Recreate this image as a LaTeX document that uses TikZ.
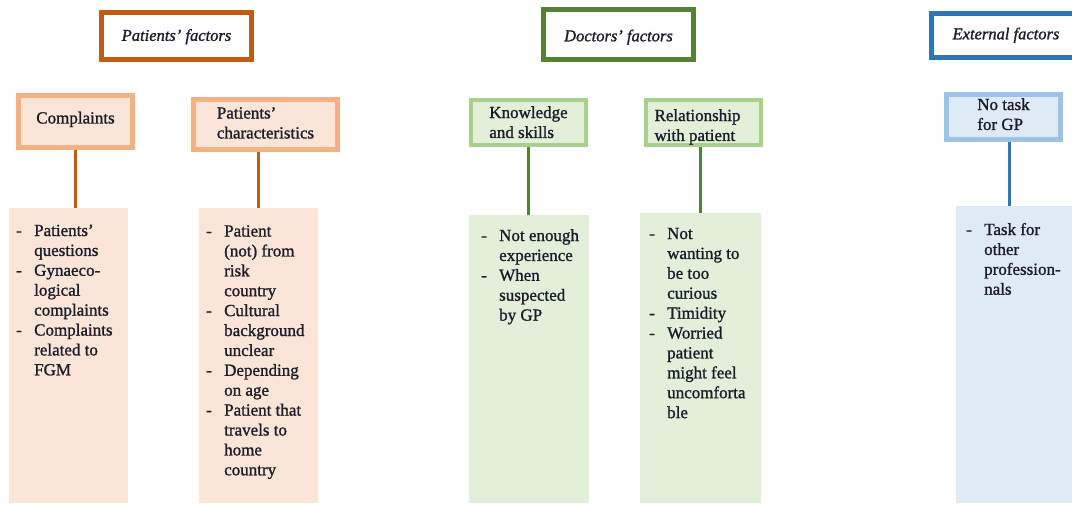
\documentclass[tikz,border=0pt]{standalone}
\usepackage{fontspec}
\setmainfont{Liberation Serif}[FakeBold=1.2]
\usepackage{array}
\definecolor{txt}{HTML}{1C1C2A}
\definecolor{oD}{HTML}{C55A11}
\definecolor{oL}{HTML}{F4B183}
\definecolor{oF}{HTML}{FBE5D6}
\definecolor{gD}{HTML}{548235}
\definecolor{gL}{HTML}{A9D18E}
\definecolor{gF}{HTML}{E2F0D9}
\definecolor{bD}{HTML}{2E75B6}
\definecolor{bL}{HTML}{9DC3E6}
\definecolor{bF}{HTML}{DEEBF7}
\newcommand{\bodyf}{\fontsize{17}{19.9}\selectfont}
\newcommand{\lst}[1]{\bodyf\begin{tabular}[t]{@{}p{18pt}@{}l@{}}#1\end{tabular}}
\newcommand{\shiftt}[2]{\raisebox{#1}[\height][\depth]{\begin{tabular}{@{}l@{}}#2\end{tabular}}}
\begin{document}
\begin{tikzpicture}[x=1pt,y=-1pt,
  head/.style={draw, line width=5pt, fill=white, minimum width=150pt, minimum height=47pt,
    inner sep=0pt, text=txt, font=\fontsize{16.5}{19}\selectfont\itshape},
  cat/.style={draw, line width=4.5pt, inner sep=0pt, align=left, text=txt, font=\bodyf},
  lbox/.style={inner sep=0pt, minimum width=119pt, minimum height=295pt},
  ltext/.style={inner sep=0pt, anchor=base west, text=txt},
  conn/.style={line width=3pt}]
\useasboundingbox (0,0) rectangle (1072,506);
\clip (0,0) rectangle (1072,506);
% patients
\node[head, draw=oD] (H1) at (176.5,36) {\shiftt{-1pt}{Patients' factors}};
\node[cat, draw=oL, fill=oF, minimum width=114pt, minimum height=52pt] (C1) at (75.5,121.5) {\shiftt{2pt}{Complaints}};
\node[cat, draw=oL, fill=oF, minimum width=144pt, minimum height=50pt] (C2) at (265.5,124.5) {\shiftt{0pt}{Patients'\\characteristics}};
\node[lbox, fill=oF] (L1) at (68.5,355.5) {};
\node[lbox, fill=oF] (L2) at (258.5,355.5) {};
\draw[conn, oD] (C1.south) -- (C1.south |- L1.north);
\draw[conn, oD] (L2.north |- C2.south) -- (L2.north);
\node[ltext] (T1) at (16,236) {\lst{-&Patients'\\&questions\\-&Gynaeco-\\&logical\\&complaints\\-&Complaints\\&related to\\&FGM}};
\node[ltext] (T2) at (206,236.5) {\lst{-&Patient\\&(not) from\\&risk\\&country\\-&Cultural\\&background\\&unclear\\-&Depending\\&on age\\-&Patient that\\&travels to\\&home\\&country}};
% doctors
\node[head, draw=gD, minimum height=50pt] (H2) at (618.5,34.5) {\shiftt{-3pt}{Doctors' factors}};
\node[cat, draw=gL, fill=gF, minimum width=115pt, minimum height=45pt] (C3) at (528.5,122.5) {\shiftt{-1.5pt}{Knowledge\\and skills}};
\node[cat, draw=gL, fill=gF, minimum width=115pt, minimum height=45pt] (C4) at (703.5,122.5) {\shiftt{-4.5pt}{Relationship\\with patient}\hspace{12pt}};
\node[lbox, fill=gF, minimum width=120pt, minimum height=288pt] (L3) at (529,359) {};
\node[lbox, fill=gF, minimum width=121pt, minimum height=290pt] (L4) at (700.5,358) {};
\draw[conn, gD] (C3.south) -- (C3.south |- L3.north);
\draw[conn, gD] (L4.north |- C4.south) -- (L4.north);
\node[ltext] (T3) at (481,241) {\lst{-&Not enough\\&experience\\-&When\\&suspected\\&by GP}};
\node[ltext] (T4) at (649,239) {\lst{-&Not\\&wanting to\\&be too\\&curious\\-&Timidity\\-&Worried\\&patient\\&might feel\\&uncomforta\\&ble}};
% external
\node[head, draw=bD, minimum height=44pt] (H3) at (1006,35.5) {\shiftt{0pt}{External factors}};
\node[cat, draw=bL, fill=bF, minimum width=114pt, minimum height=45pt] (C5) at (1003.5,117) {\shiftt{1pt}{No task\\for GP}};
\node[lbox, fill=bF, minimum width=130pt, minimum height=297pt] (L5) at (1021,354.5) {};
\draw[conn, bD] ([xshift=5.5pt]C5.south) -- ([xshift=5.5pt]C5.south |- L5.north);
\node[ltext] (T5) at (966,235) {\lst{-&Task for\\&other\\&profession-\\&nals}};
\end{tikzpicture}
\end{document}
